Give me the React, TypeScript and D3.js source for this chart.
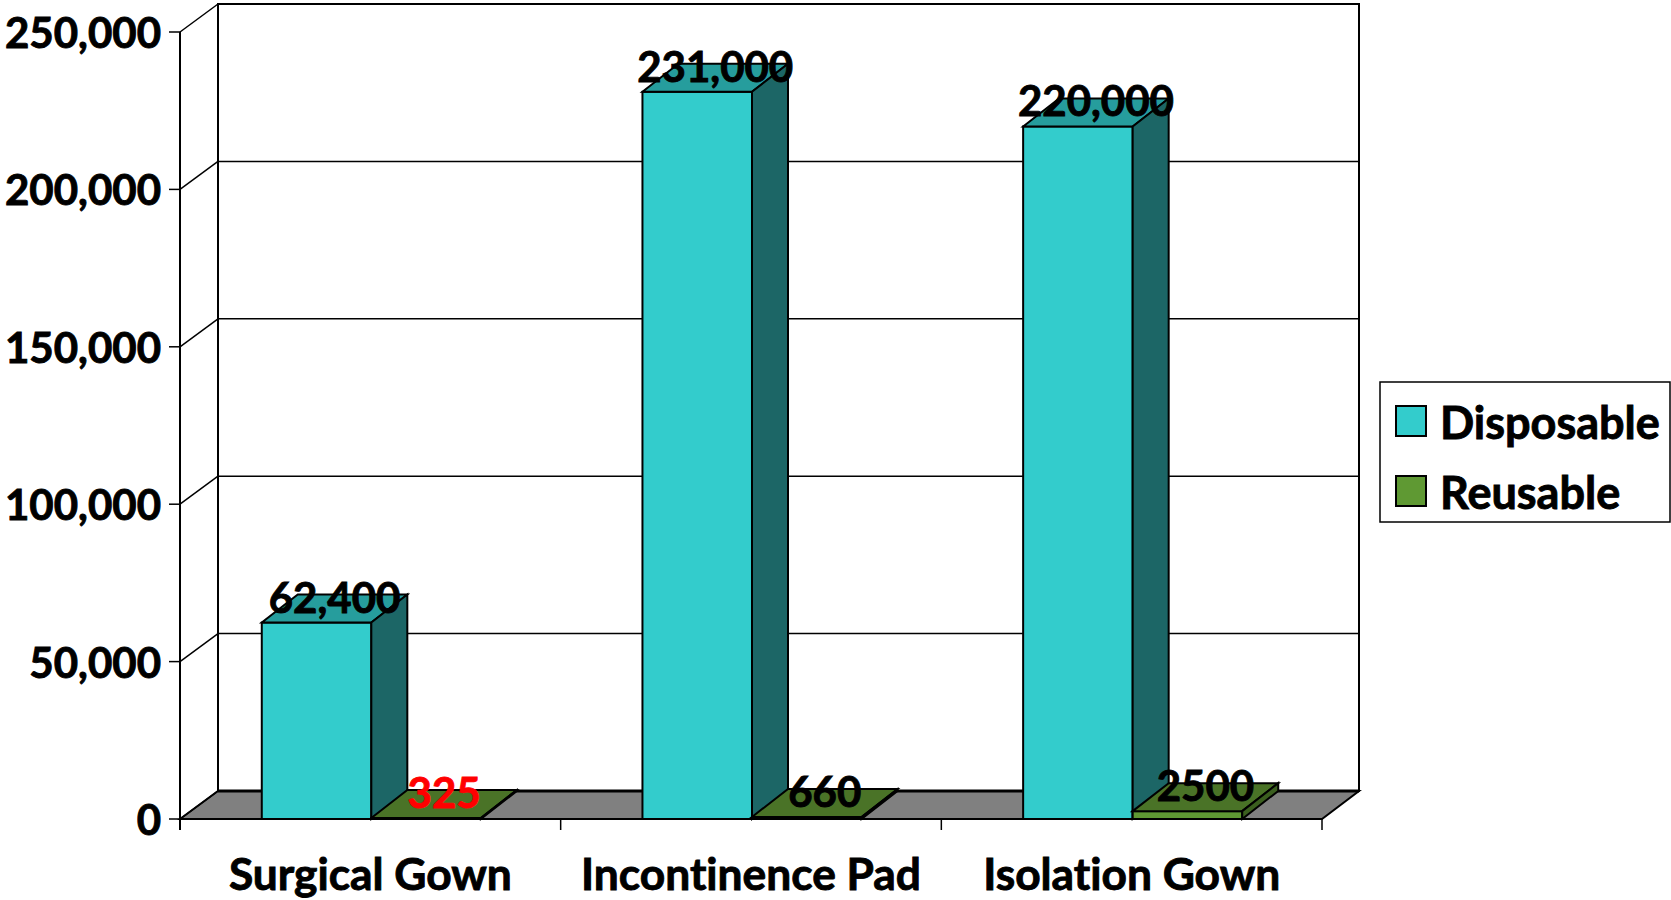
import * as d3 from "d3";

const categories = ["Surgical Gown", "Incontinence Pad", "Isolation Gown"];
const seriesNames = ["Disposable", "Reusable"];
const disposable = [62400, 231000, 220000];
const reusable = [325, 660, 2500];
const disposableLabels = ["62,400", "231,000", "220,000"];
const reusableLabels = ["325", "660", "2500"];
const yTicks = [0, 50000, 100000, 150000, 200000, 250000];
const redLabel = "325";

const FONT = "Lato, Carlito, 'Open Sans', sans-serif";
const FRONT_LEFT = 180;
const FRONT_RIGHT = 1322;
const Y0 = 819;
const Y_TOP = 32;
const WALL_DX = 38;
const WALL_DY = -28;
const BAR_DX = 36;
const BAR_DY = -28;
const FONT_SIZE = 42;

const colors: Record<string, { front: string; top: string; side: string }> = {
  Disposable: { front: "#33cccc", top: "#269d9d", side: "#1c6666" },
  Reusable: { front: "#5f9933", top: "#4a7327", side: "#3b5f1f" },
};

const y = d3.scaleLinear().domain([0, 250000]).range([Y0, Y_TOP]);
const x = d3.scaleBand<string>().domain(categories).range([FRONT_LEFT + 1, FRONT_RIGHT + 1]).paddingInner(0.4245).paddingOuter(0.2122);
const inner = d3.scaleBand<string>().domain(seriesNames).range([0, x.bandwidth()]);
const fmt = d3.format(",");

const poly = (pts: [number, number][]) => pts.map((p) => p.join(",")).join(" ");

function Bar({ x0, w, top, c }: { x0: number; w: number; top: number; c: { front: string; top: string; side: string } }) {
  const x1 = x0 + w;
  return (
    <g stroke="#000" strokeWidth={2} strokeLinejoin="miter">
      <rect x={x0} y={top} width={w} height={Y0 - top} fill={c.front} />
      <polygon fill={c.top} points={poly([[x0, top], [x0 + BAR_DX, top + BAR_DY], [x1 + BAR_DX, top + BAR_DY], [x1, top]])} />
      <polygon fill={c.side} points={poly([[x1, top], [x1 + BAR_DX, top + BAR_DY], [x1 + BAR_DX, Y0 + BAR_DY], [x1, Y0]])} />
    </g>
  );
}

export default function App() {
  const catEdges = d3.range(categories.length + 1).map((i) => FRONT_LEFT + (i * (FRONT_RIGHT - FRONT_LEFT)) / categories.length);
  const backLeft = FRONT_LEFT + WALL_DX;
  const backRight = FRONT_RIGHT + WALL_DX - 1;
  return (
    <svg
      width={1671}
      height={900}
      style={{ position: "fixed", left: 0, top: 0, background: "#fff", fontVariantLigatures: "none" }}
      fontFamily={FONT}
      fontWeight={700}
      fontSize={FONT_SIZE}
    >
      {/* back wall */}
      <rect x={backLeft} y={Y_TOP + WALL_DY} width={backRight - backLeft} height={Y0 - Y_TOP} fill="#fff" stroke="#000" strokeWidth={2} />
      {/* floor */}
      <polygon fill="#808080" stroke="#000" strokeWidth={2} points={poly([[FRONT_LEFT, Y0], [backLeft, Y0 + WALL_DY], [backRight, Y0 + WALL_DY], [FRONT_RIGHT, Y0]])} />
      <line x1={backLeft} x2={backRight} y1={Y0 + WALL_DY} y2={Y0 + WALL_DY} stroke="#000" strokeWidth={3} />
      {/* gridlines and left wall */}
      {yTicks.map((t) => (
        <g key={t} stroke="#000" strokeWidth={1.5}>
          {t > 0 && <line x1={backLeft} x2={backRight} y1={y(t) + WALL_DY} y2={y(t) + WALL_DY} />}
          <line x1={FRONT_LEFT} x2={backLeft} y1={y(t)} y2={y(t) + WALL_DY} />
          <line x1={FRONT_LEFT - 11} x2={FRONT_LEFT} y1={y(t)} y2={y(t)} />
        </g>
      ))}
      <line x1={FRONT_LEFT} x2={FRONT_LEFT} y1={Y_TOP} y2={Y0 + 11} stroke="#000" strokeWidth={2} />
      <line x1={FRONT_LEFT} x2={FRONT_RIGHT} y1={Y0} y2={Y0} stroke="#000" strokeWidth={2} />
      {catEdges.map((e) => (
        <line key={e} x1={e} x2={e} y1={Y0} y2={Y0 + 11} stroke="#000" strokeWidth={1.5} />
      ))}
      {/* bars */}
      {categories.map((cat, i) => {
        const bx = x(cat) ?? 0;
        return (
          <g key={cat}>
            <Bar x0={bx + (inner("Disposable") ?? 0)} w={inner.bandwidth()} top={y(disposable[i])} c={colors.Disposable} />
            <Bar x0={bx + (inner("Reusable") ?? 0)} w={inner.bandwidth()} top={y(reusable[i])} c={colors.Reusable} />
          </g>
        );
      })}
      {/* value labels */}
      <g strokeWidth={0.9}>
        {categories.map((cat, i) => {
          const bx = x(cat) ?? 0;
          const w = inner.bandwidth();
          const dx = bx + (inner("Disposable") ?? 0) + (w + BAR_DX) / 2;
          const rx = bx + (inner("Reusable") ?? 0) + (w + BAR_DX) / 2;
          const rc = reusableLabels[i] === redLabel ? "#ff0000" : "#000";
          return (
            <g key={cat} textAnchor="middle">
              <text x={dx} y={y(disposable[i]) - 10} fill="#000" stroke="#000">{disposableLabels[i]}</text>
              <text x={rx} y={y(reusable[i]) - 10} fill={rc} stroke={rc}>{reusableLabels[i]}</text>
            </g>
          );
        })}
        {/* y tick labels */}
        {yTicks.map((t) => (
          <text key={t} x={161} y={y(t) + 16} textAnchor="end" fill="#000" stroke="#000">{fmt(t)}</text>
        ))}
        {/* category labels */}
        {categories.map((cat, i) => (
          <text key={cat} x={(catEdges[i] + catEdges[i + 1]) / 2} y={890} textAnchor="middle" fontSize={44.3} fill="#000" stroke="#000">{cat}</text>
        ))}
      </g>
      {/* legend */}
      <rect x={1380} y={382} width={290} height={140} fill="#fff" stroke="#000" strokeWidth={1.5} />
      {seriesNames.map((name, i) => (
        <g key={name}>
          <rect x={1396} y={406 + i * 70} width={30} height={30} fill={colors[name].front} stroke="#000" strokeWidth={2} />
          <text x={1440} y={439 + i * 70} fontSize={45} fill="#000" stroke="#000" strokeWidth={0.9}>{name}</text>
        </g>
      ))}
    </svg>
  );
}
